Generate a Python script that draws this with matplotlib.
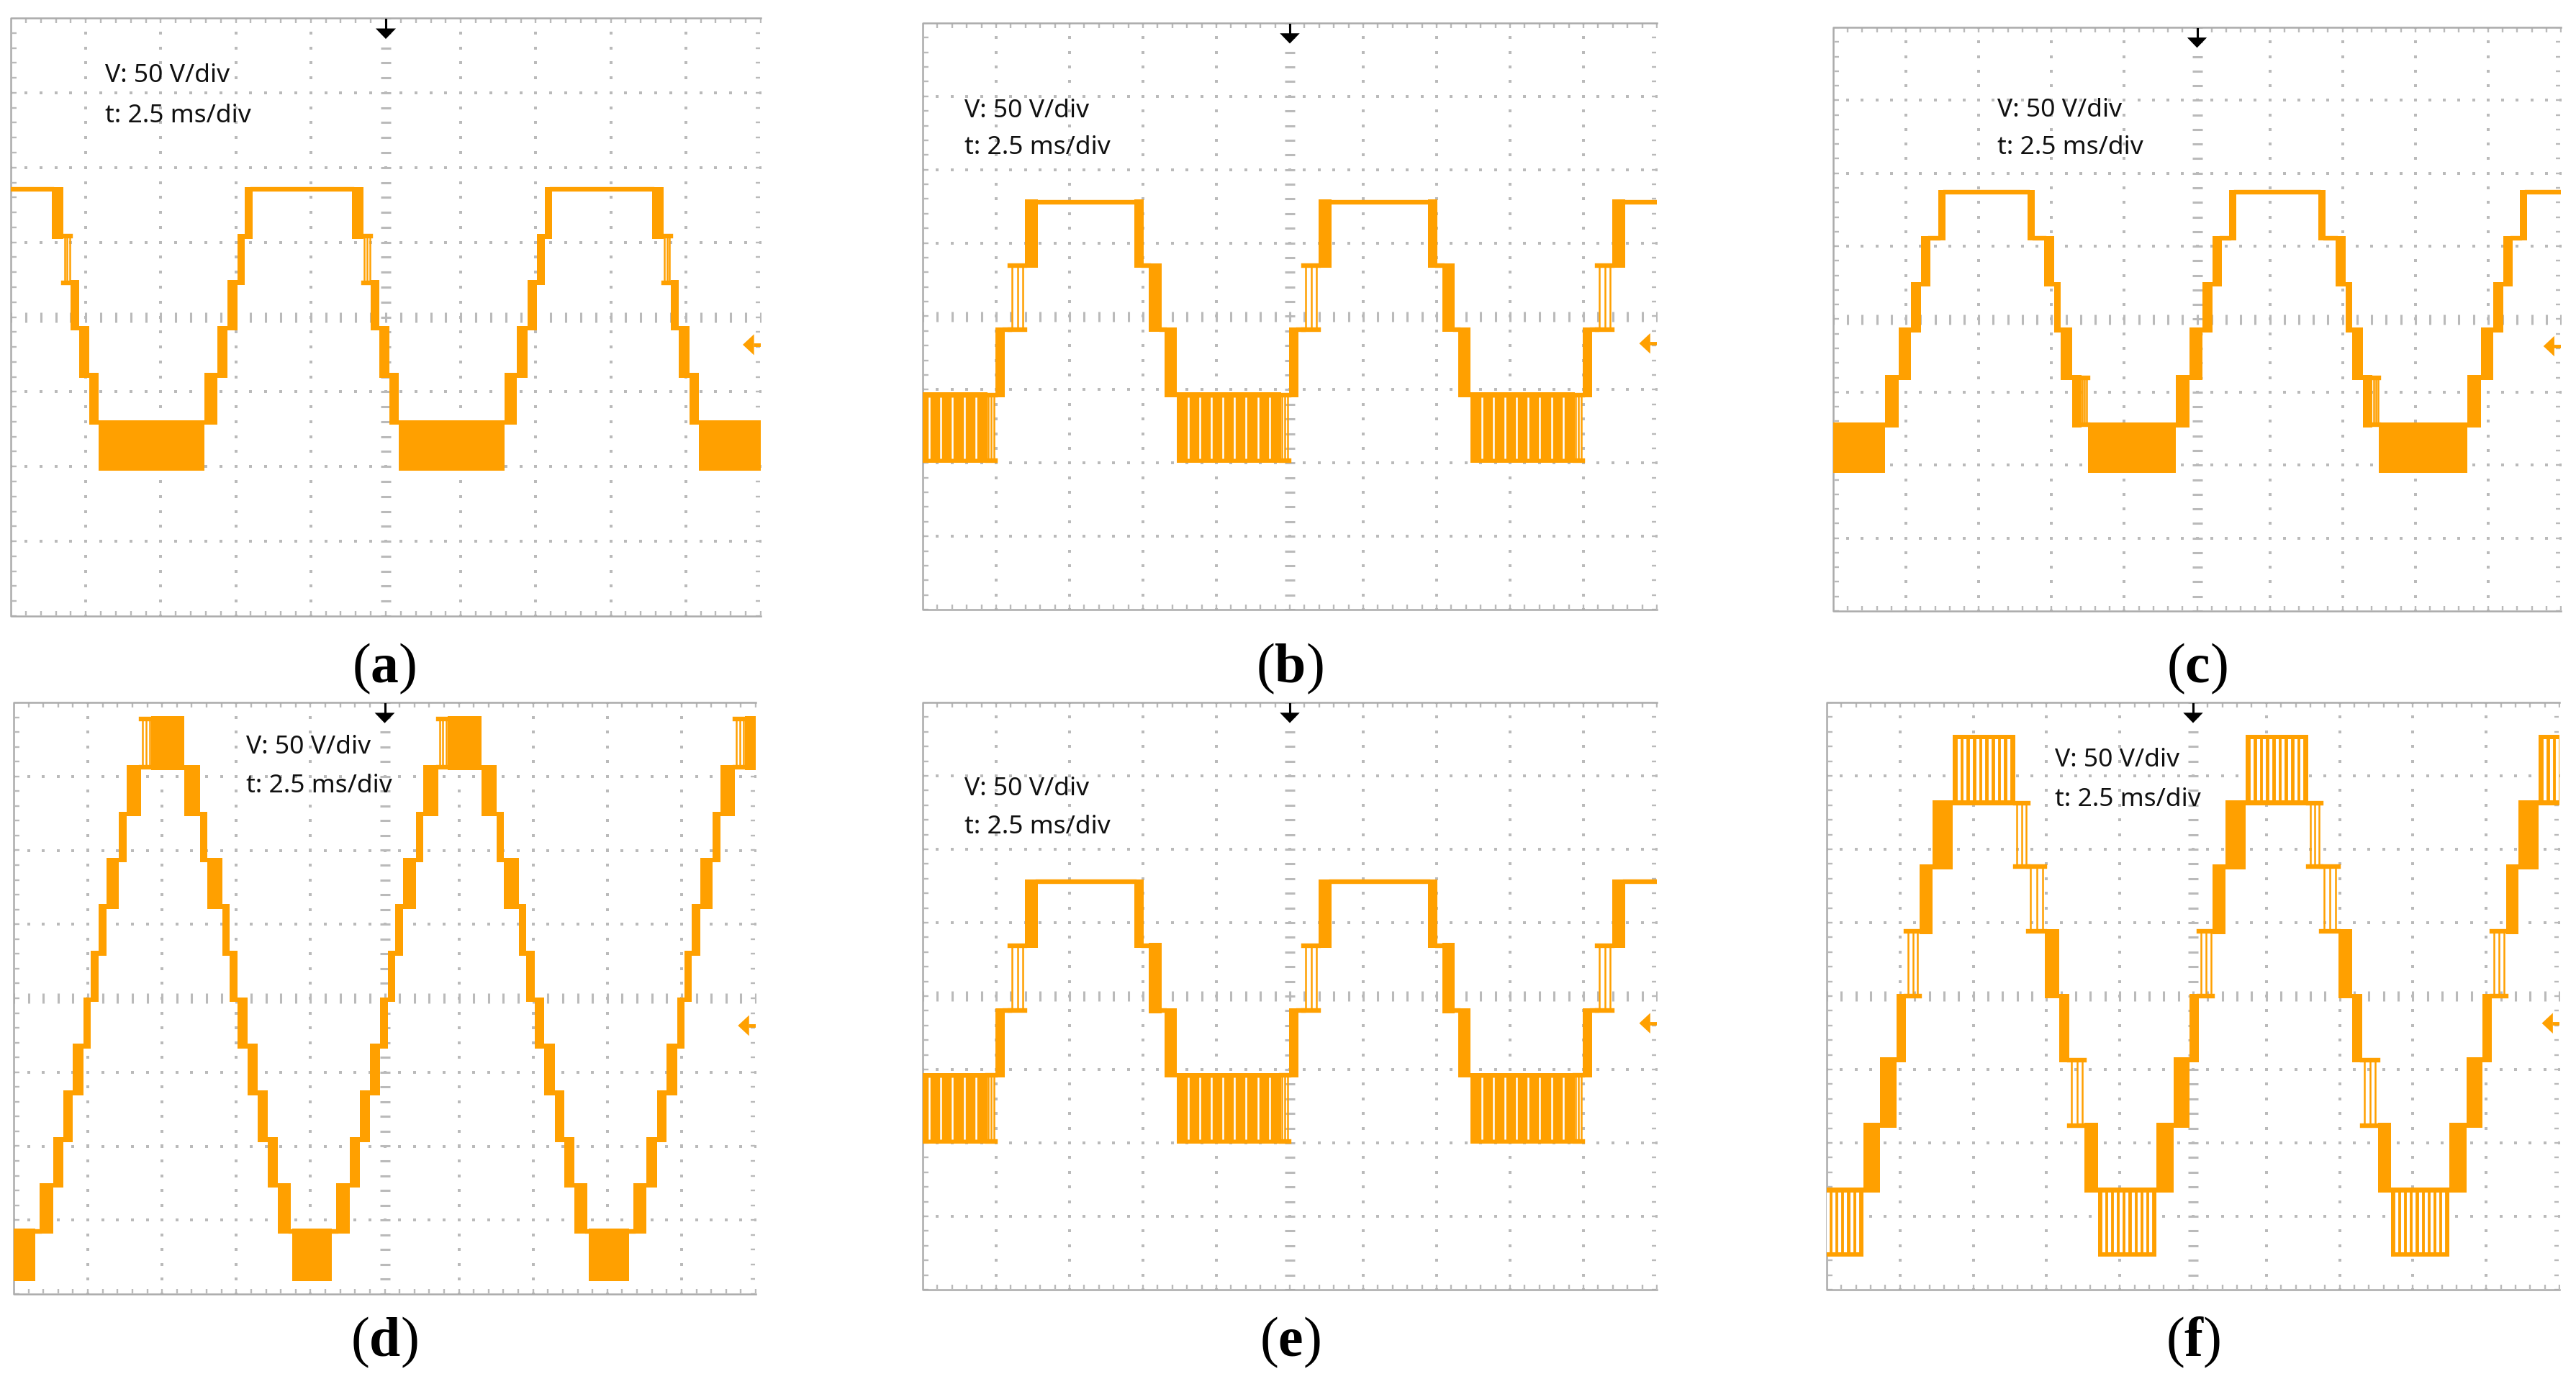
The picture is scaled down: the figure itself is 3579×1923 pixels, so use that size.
import matplotlib.pyplot as plt
import numpy as np
from matplotlib.patches import Rectangle

plt.rcParams['mathtext.fontset'] = 'custom'
plt.rcParams['mathtext.rm'] = 'Liberation Serif'
plt.rcParams['mathtext.bf'] = 'Liberation Serif:bold'

W, H = 3579, 1924
ORANGE = '#ffa000'
DOT = '#bababa'
BORDER = '#ababab'
PERIOD = 4.0   # divisions (10 ms at 2.5 ms/div)
HW = 0.032     # half trace thickness, in divisions
LW = 4.6

# ---- trace data, in scope divisions (one period, repeated) ----
# (a)
a_levels = [-2.02, -1.41, -0.78, -0.15, 0.46, 1.08, 1.71]
a_edges = [0.00, 1.41, 1.58, 1.72, 1.85, 1.95, 2.05, 3.38, 3.53, 3.63, 3.74, 3.88, 4.00]
a_lo = [0, 1, 2, 3, 4, 5, 6, 5, 4, 3, 2, 1]
a_hi = [1, 2, 3, 4, 5, 6, 6, 6, 5, 4, 3, 2]
a_kind = ['solid', 'solid', 'solid', 'solid', 'solid', 'solid', 'flat',
          'solid', 'thin', 'solid', 'solid', 'solid']
a_phase = 1.17

# (b) and (e) share the same switching pattern
b_levels = [-1.97, -1.07, -0.18, 0.69, 1.56]
e_levels = [-1.98, -1.08, -0.20, 0.69, 1.56]
b_edges = [0.00, 1.42, 1.53, 1.66, 1.73, 1.93, 2.11, 3.42, 3.55, 3.62, 3.79, 3.83, 4.00]
b_lo = [0, 0, 1, 2, 2, 3, 4, 3, 3, 2, 2, 1]
b_hi = [1, 1, 2, 2, 3, 4, 4, 4, 3, 3, 2, 2]
b_kind = ['comb', 'thin', 'solid', 'flat', 'thin', 'solid', 'flat',
          'solid', 'flat', 'solid', 'flat', 'solid']
b_phase = -0.54

# (c)
c_levels = [-2.07, -1.45, -0.80, -0.15, 0.48, 1.11, 1.74]
c_edges = [0.00, 1.21, 1.40, 1.57, 1.71, 1.84, 1.94, 2.04, 3.17, 3.27, 3.40,
           3.54, 3.63, 3.78, 3.91, 4.00]
c_lo = [0, 1, 2, 3, 4, 5, 5, 6, 5, 5, 4, 3, 2, 1, 1]
c_hi = [1, 2, 3, 4, 5, 5, 6, 6, 6, 5, 5, 4, 3, 2, 2]
c_kind = ['solid', 'solid', 'solid', 'solid', 'solid', 'flat', 'solid', 'flat',
          'solid', 'flat', 'solid', 'solid', 'solid', 'solid', 'thin']
c_phase = -0.50

# (d)
d_levels = [-3.79, -3.15, -2.53, -1.91, -1.28, -0.65, -0.02, 0.61, 1.24, 1.87,
            2.49, 3.12, 3.78]
d_edges = [0.00, 0.54, 0.60, 0.78, 0.92, 1.05, 1.19, 1.29, 1.39, 1.50, 1.67,
           1.77, 1.97, 2.10, 2.55, 2.76, 2.86, 3.06, 3.16, 3.27, 3.40, 3.54,
           3.67, 3.81, 3.98, 4.00]
d_lo = [0, 1, 1, 2, 3, 4, 5, 6, 7, 8, 9, 10, 11, 11, 10, 9, 8, 7, 6, 5, 4, 3, 2, 1, 1]
d_hi = [1, 1, 2, 3, 4, 5, 6, 7, 8, 9, 10, 11, 12, 12, 11, 10, 9, 8, 7, 6, 5, 4, 3, 2, 1]
d_kind = (['solid', 'flat'] + ['solid'] * 10 + ['thin', 'solid'] + ['solid'] * 10
          + ['flat'])
d_phase = -0.25

# (f)
f_levels = [-3.52, -2.64, -1.76, -0.87, 0.00, 0.88, 1.76, 2.63, 3.53]
f_edges = [0.00, 0.80, 1.03, 1.25, 1.38, 1.57, 1.74, 2.02, 2.87, 3.05, 3.28,
           3.47, 3.61, 3.82, 4.00]
f_lo = [0, 1, 2, 3, 4, 5, 6, 7, 6, 5, 4, 3, 2, 1]
f_hi = [1, 2, 3, 4, 5, 6, 7, 8, 7, 6, 5, 4, 3, 2]
f_kind = ['comb', 'solid', 'solid', 'solid', 'thin', 'solid', 'solid', 'comb',
          'thin', 'thin', 'solid', 'solid', 'thin', 'solid']
f_phase = -0.30

panel_names = ['a', 'b', 'c', 'd', 'e', 'f']
scale_lines = ['V: 50 V/div', 't: 2.5 ms/div']

# screen boxes in pixels (left, top, right, bottom)
boxes = {'a': (15, 26, 1057, 857), 'b': (1282, 33, 2302, 848),
         'c': (2547, 39, 3558, 850), 'd': (19, 977, 1050, 1799),
         'e': (1282, 977, 2302, 1793), 'f': (2538, 977, 3556, 1793)}
# scale text position (x, y of first line, y of second line) in divisions
text_pos = {'a': (1.26, 3.24, 2.70), 'b': (0.57, 2.81, 2.31), 'c': (2.26, 2.88, 2.36),
            'd': (3.13, 3.41, 2.88), 'e': (0.57, 2.83, 2.31), 'f': (3.11, 3.23, 2.69)}
label_pos = {'a': (534, 929), 'b': (1792, 929), 'c': (3052, 929),
             'd': (534, 1865), 'e': (1792, 1865), 'f': (3047, 1865)}
comb_gaps = {'b': (8, 1.8), 'e': (8, 1.8), 'f': (9, 3.0)}


def draw_screen(ax):
    ax.set_xlim(0, 10)
    ax.set_ylim(-4, 4)
    ax.axis('off')
    fx = np.arange(0, 10.001, 0.2)
    fy = np.arange(-4, 4.001, 0.2)
    for gx in [1, 2, 3, 4, 6, 7, 8, 9]:
        ax.plot(np.full_like(fy, gx), fy, ls='none', marker='s', ms=2.2,
                mew=0, color=DOT, zorder=1)
    for gy in [-3, -2, -1, 1, 2, 3]:
        ax.plot(fx, np.full_like(fx, gy), ls='none', marker='s', ms=2.2,
                mew=0, color=DOT, zorder=1)
    # centre cross with fine ticks
    ax.plot(fx, np.zeros_like(fx), ls='none', marker='|', ms=10, mew=2.2,
            color=DOT, zorder=1)
    ax.plot(np.full_like(fy, 5), fy, ls='none', marker='_', ms=10, mew=2.2,
            color=DOT, zorder=1)
    # frame (no line on the right side)
    ax.plot([10, 0, 0, 10], [4, 4, -4, -4], color=BORDER, lw=1.8,
            clip_on=False, zorder=2)
    ax.plot(fx, np.full_like(fx, 3.96), ls='none', marker='|', ms=4.5, mew=1.7,
            color=DOT, zorder=1)
    ax.plot(fx, np.full_like(fx, -3.96), ls='none', marker='|', ms=4.5, mew=1.7,
            color=DOT, zorder=1)
    ax.plot(np.full_like(fy, 0.05), fy, ls='none', marker='_', ms=4.5, mew=1.7,
            color=DOT, zorder=1)
    ax.plot(np.full_like(fy, 9.96), fy, ls='none', marker='_', ms=5, mew=1.7,
            color=DOT, zorder=1)
    # trigger arrow (top) and ground marker (right)
    ax.plot([5, 5], [3.98, 3.85], color='black', lw=2.2, zorder=6)
    ax.fill([4.865, 5.135, 5.0], [3.86, 3.86, 3.72], color='black', lw=0, zorder=6)
    ax.fill([9.76, 9.91, 9.91], [-0.37, -0.23, -0.51], color=ORANGE, lw=0, zorder=6)
    ax.plot([9.9, 10.0], [-0.37, -0.37], color=ORANGE, lw=3.5, zorder=6,
            solid_capstyle='butt')


def draw_trace(ax, levels, edges, lo, hi, kind, phase, gaps):
    for k in range(-1, 4):
        off = phase + k * PERIOD
        for i in range(len(lo)):
            t0, t1 = edges[i] + off, edges[i + 1] + off
            if t1 < -0.2 or t0 > 10.2:
                continue
            y0, y1 = levels[lo[i]], levels[hi[i]]
            if kind[i] == 'flat':
                ax.plot([t0, t1], [y0, y0], color=ORANGE, lw=LW,
                        solid_capstyle='projecting', zorder=3)
            elif kind[i] == 'thin':
                for yy in (y0, y1):
                    ax.plot([t0, t1], [yy, yy], color=ORANGE, lw=LW,
                            solid_capstyle='projecting', zorder=3)
                for xx in t0 + (t1 - t0) * np.array([0.15, 0.5, 0.85]):
                    ax.plot([xx, xx], [y0, y1], color=ORANGE, lw=1.8, zorder=3)
            else:
                ax.add_patch(Rectangle((t0, y0 - HW), t1 - t0, y1 - y0 + 2 * HW,
                                       color=ORANGE, lw=0, zorder=3))
                if kind[i] == 'comb':
                    n, gw = gaps
                    for xx in np.linspace(t0, t1, n + 2)[1:-1]:
                        ax.plot([xx, xx], [y0 + HW, y1 - HW], color='white',
                                lw=gw, zorder=4, solid_capstyle='butt')


traces = {
    'a': (a_levels, a_edges, a_lo, a_hi, a_kind, a_phase),
    'b': (b_levels, b_edges, b_lo, b_hi, b_kind, b_phase),
    'c': (c_levels, c_edges, c_lo, c_hi, c_kind, c_phase),
    'd': (d_levels, d_edges, d_lo, d_hi, d_kind, d_phase),
    'e': (e_levels, b_edges, b_lo, b_hi, b_kind, b_phase),
    'f': (f_levels, f_edges, f_lo, f_hi, f_kind, f_phase),
}

fig = plt.figure(figsize=(W / 100, H / 100), dpi=100)
fig.patch.set_facecolor('white')

for name in panel_names:
    x0, y0, x1, y1 = boxes[name]
    ax = fig.add_axes([x0 / W, 1 - y1 / H, (x1 - x0) / W, (y1 - y0) / H])
    draw_screen(ax)
    draw_trace(ax, *traces[name], comb_gaps.get(name, (0, 0)))
    tx, ty1, ty2 = text_pos[name]
    for line, ty in zip(scale_lines, (ty1, ty2)):
        ax.text(tx, ty, line, fontsize=25.5, family='Noto Sans', color='#111111',
                ha='left', va='center', zorder=7)
    lx, ly = label_pos[name]
    fig.text(lx / W, 1 - ly / H, '($\\mathbf{%s}$)' % name, fontsize=56,
             family='Liberation Serif', ha='center', va='center')

fig.savefig('out.png', dpi=100, facecolor='white')
